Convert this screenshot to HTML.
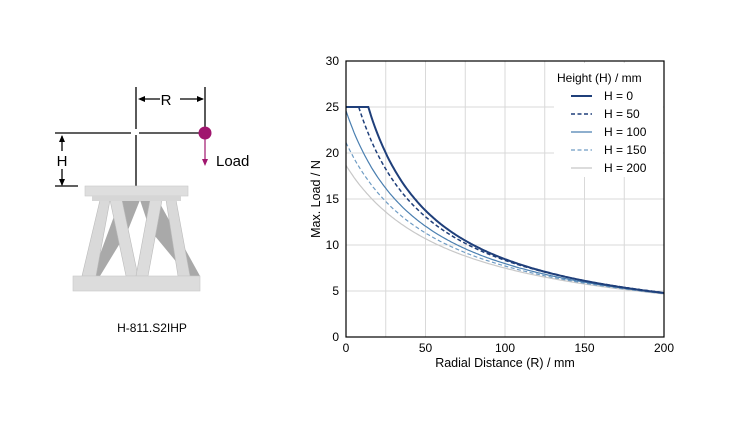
<!DOCTYPE html>
<html><head><style>body{margin:0;background:#fff}svg{display:block}text{font-family:"Liberation Sans",sans-serif}</style></head>
<body>
<svg id="s" width="750" height="427" viewBox="0 0 750 427">
<!-- left figure -->
<g stroke="#000" stroke-width="1.3" fill="none">
<line x1="136" y1="87" x2="136" y2="129"/>
<line x1="136" y1="135" x2="136" y2="186"/>
<line x1="55" y1="133" x2="131" y2="133"/>
<line x1="139" y1="133" x2="205" y2="133"/>
<line x1="205" y1="87" x2="205" y2="133"/>
<line x1="55" y1="186" x2="78" y2="186"/>
<line x1="140" y1="99" x2="160" y2="99"/>
<line x1="180" y1="99" x2="203" y2="99"/>
<line x1="62" y1="136" x2="62" y2="151"/>
<line x1="62" y1="169" x2="62" y2="185"/>
</g>
<g fill="#000">
<polygon points="138,99 145,96 145,102"/><polygon points="204,99 197,96 197,102"/>
<polygon points="62,135 59,142 65,142"/><polygon points="62,186 59,179 65,179"/>
</g>
<text x="166" y="105" font-size="15" text-anchor="middle">R</text>
<text x="62" y="166" font-size="15" text-anchor="middle">H</text>
<line x1="205" y1="138" x2="205" y2="161" stroke="#a0166e" stroke-width="1.2"/>
<polygon points="205,166 202,159 208,159" fill="#a0166e"/>
<circle cx="205" cy="133" r="6.5" fill="#a0166e"/>
<text x="216" y="166" font-size="15">Load</text>
<!-- hexapod -->
<g>
<polygon points="120,200 140,200 128,230 100,276 92,276" fill="#a9a9a9"/>
<polygon points="140,200 158,200 200,276 188,276 150,230" fill="#a9a9a9"/>
<polygon points="100,200 110,200 96,276 82,276" fill="#d9d9d9" stroke="#bbb" stroke-width=".6"/>
<polygon points="110,200 122,200 138,276 126,276" fill="#dcdcdc" stroke="#bbb" stroke-width=".6"/>
<polygon points="150,200 162,200 148,276 136,276" fill="#dcdcdc" stroke="#bbb" stroke-width=".6"/>
<polygon points="166,200 176,200 190,276 178,276" fill="#d9d9d9" stroke="#bbb" stroke-width=".6"/>
<rect x="85" y="186" width="103" height="10" fill="#dedede" stroke="#c8c8c8" stroke-width=".6"/>
<rect x="92" y="196" width="89" height="5" fill="#d6d6d6"/>
<rect x="73" y="276" width="127" height="15" fill="#dcdcdc" stroke="#c8c8c8" stroke-width=".6"/>
</g>
<text x="152" y="332" font-size="12" text-anchor="middle">H-811.S2IHP</text>
<!-- chart -->
<g id="grid" stroke="#d9d9d9" stroke-width="1"></g>
<g id="curves" fill="none"></g>
<rect x="346" y="61" width="318" height="276" fill="none" stroke="#000" stroke-width="1.2"/>
<g id="ticks" font-size="12" fill="#000"></g>
<text x="505" y="367" font-size="12.5" text-anchor="middle">Radial Distance (R) / mm</text>
<text transform="translate(320,199) rotate(-90)" font-size="12.5" text-anchor="middle">Max. Load / N</text>
<rect x="554" y="63" width="109" height="114" fill="#fff"/>
<text x="557" y="82" font-size="12">Height (H) / mm</text>
<g font-size="12">
<line x1="571" y1="96" x2="592" y2="96" stroke="#1f3f7a" stroke-width="2"/><text x="604" y="100">H = 0</text>
<line x1="571" y1="114" x2="592" y2="114" stroke="#1f3f7a" stroke-width="1.5" stroke-dasharray="4,2.5"/><text x="604" y="118">H = 50</text>
<line x1="571" y1="132" x2="592" y2="132" stroke="#4a7fb0" stroke-width="1.2"/><text x="604" y="136">H = 100</text>
<line x1="571" y1="150" x2="592" y2="150" stroke="#6f9cc4" stroke-width="1.2" stroke-dasharray="4,2.5"/><text x="604" y="154">H = 150</text>
<line x1="571" y1="168" x2="592" y2="168" stroke="#c8c8c8" stroke-width="1.2"/><text x="604" y="172">H = 200</text>
</g>
</svg>
<script>
var NS="http://www.w3.org/2000/svg";
function X(r){return 346+r*318/200}function Y(v){return 337-v*9.2}
function el(p,t,a,txt){var e=document.createElementNS(NS,t);for(var k in a)e.setAttribute(k,a[k]);if(txt!=null)e.textContent=txt;document.getElementById(p).appendChild(e);}
for(var r=25;r<200;r+=25)el("grid","line",{x1:X(r),y1:61,x2:X(r),y2:337});
for(var v=5;v<30;v+=5)el("grid","line",{x1:346,y1:Y(v),x2:664,y2:Y(v)});
for(var r=0;r<=200;r+=50)el("ticks","text",{x:X(r),y:352,"text-anchor":"middle"},r);
for(var v=0;v<=30;v+=5)el("ticks","text",{x:339,y:Y(v)+4,"text-anchor":"end"},v);
var S=[[1100,30,"#1f3f7a",2,""],[1150,38,"#1f3f7a",1.5,"4,2.5"],[1180,48,"#4a7fb0",1.2,""],[1215,57.5,"#6f9cc4",1.2,"4,2.5"],[1250,67,"#c8c8c8",1.2,""]];
S.reverse().forEach(function(s){var p="";for(var r=0;r<=200;r+=1){var v=Math.min(25,s[0]/(r+s[1]));p+=(r?"L":"M")+X(r).toFixed(1)+","+Y(v).toFixed(1);}
var a={d:p,stroke:s[2],"stroke-width":s[3]};if(s[4])a["stroke-dasharray"]=s[4];el("curves","path",a);});
</script>
</body></html>
